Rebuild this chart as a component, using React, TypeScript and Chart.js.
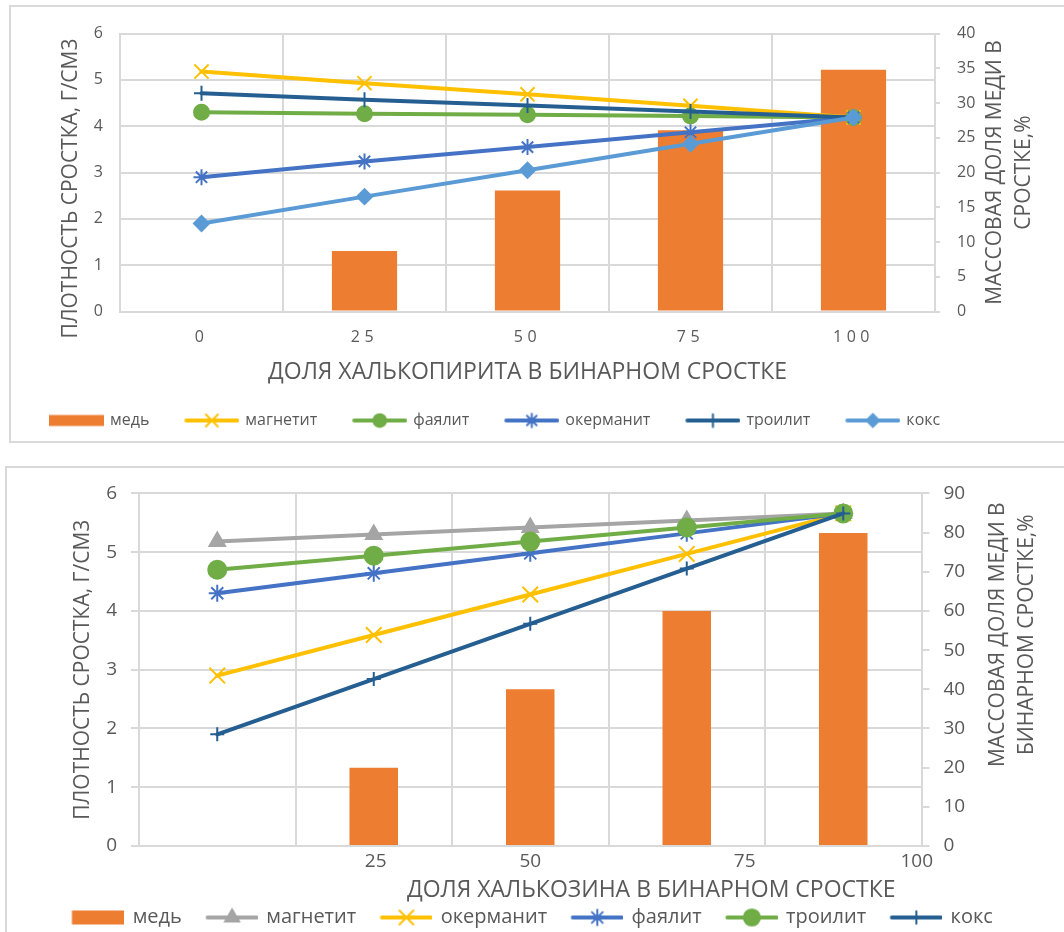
import React, { useEffect, useRef } from 'react';
import { Chart, registerables } from 'chart.js';
import { drawPoint } from 'chart.js/helpers';

Chart.register(...registerables);

// ---------- Chalcopyrite intergrowth ----------
const CPY_SHARE = ['0', '25', '50', '75', '100'];
const CPY_COPPER = [0, 8.7, 17.4, 26.1, 34.8];
const CPY_MAGNETITE = [5.18, 4.93, 4.69, 4.44, 4.19];
const CPY_FAYALITE = [4.3, 4.27, 4.25, 4.22, 4.19];
const CPY_AKERMANITE = [2.9, 3.24, 3.55, 3.87, 4.19];
const CPY_TROILITE = [4.71, 4.57, 4.45, 4.32, 4.19];
const CPY_COKE = [1.9, 2.48, 3.05, 3.62, 4.19];

// ---------- Chalcocite intergrowth ----------
const CC_SHARE = ['0', '25', '50', '75', '100'];
const CC_TICK_LABELS = ['25', '50', '75', '100'];
const CC_COPPER = [0, 20, 40, 60, 79.9];
const CC_MAGNETITE = [5.18, 5.3, 5.42, 5.54, 5.66];
const CC_AKERMANITE = [2.9, 3.59, 4.28, 4.97, 5.66];
const CC_FAYALITE = [4.3, 4.64, 4.98, 5.32, 5.66];
const CC_TROILITE = [4.7, 4.94, 5.18, 5.42, 5.66];
const CC_COKE = [1.9, 2.84, 3.78, 4.72, 5.66];

const DENSITY_TITLE = 'ПЛОТНОСТЬ СРОСТКА, Г/СМ3';
const CPY_X_TITLE = 'ДОЛЯ ХАЛЬКОПИРИТА В БИНАРНОМ СРОСТКЕ';
const CC_X_TITLE = 'ДОЛЯ ХАЛЬКОЗИНА В БИНАРНОМ СРОСТКЕ';
const CPY_CU_TITLE = ['МАССОВАЯ ДОЛЯ МЕДИ В', 'СРОСТКЕ,%'];
const CC_CU_TITLE = ['МАССОВАЯ ДОЛЯ МЕДИ В', 'БИНАРНОМ СРОСТКЕ,%'];

const FONT = "'Open Sans', 'Noto Sans', sans-serif";
const TEXT = '#595959';
const GRID = '#d9d9d9';
const ORANGE = '#ED7D31';
const YELLOW = '#FFC000';
const GREEN = '#70AD47';
const BLUE = '#4472C4';
const NAVY = '#255E91';
const SKY = '#5B9BD5';
const GREY = '#A5A5A5';

type Series = {
  label: string;
  data: number[];
  color: string;
  style: string;
  radius: number;
};

type Layout = {
  width: number;
  height: number;
  padding: { left: number; top: number; right: number; bottom: number };
  leftWidth: number;
  rightWidth: number;
  xHeight: number;
  tickFont: number;
  xTickPad: number;
  yTickPad: number;
  leftTickLen: number;
  rightTickLen: number;
  legendFont: number;
  legendPad: number;
  legendAlign: 'start' | 'center';
  glyphW: number;
  glyphLead: number;
  barH: number;
  lineW: number;
  markerScale: number;
  barRatio: number;
  letterSpacing: string;
  titles: any[];
};

// Legend swatch: transparent lead-in, then a line with its marker (or a bar block).
function makeGlyph(s: Series | null, L: Layout): HTMLCanvasElement {
  const c = document.createElement('canvas');
  const h = 24;
  c.width = L.glyphLead + L.glyphW;
  c.height = h;
  const ctx = c.getContext('2d')!;
  const x0 = L.glyphLead;
  if (!s) {
    ctx.fillStyle = ORANGE;
    ctx.fillRect(x0, (h - L.barH) / 2, L.glyphW, L.barH);
    return c;
  }
  ctx.strokeStyle = s.color;
  ctx.lineWidth = L.lineW;
  ctx.lineCap = 'round';
  ctx.beginPath();
  ctx.moveTo(x0 + L.lineW / 2, h / 2);
  ctx.lineTo(x0 + L.glyphW - L.lineW / 2, h / 2);
  ctx.stroke();
  ctx.fillStyle = s.color;
  ctx.strokeStyle = s.color;
  ctx.lineWidth = 2;
  drawPoint(ctx, { pointStyle: s.style as any, radius: s.radius * L.markerScale, rotation: 0, borderWidth: 2 }, x0 + L.glyphW / 2, h / 2);
  return c;
}

const titlePlugin = {
  id: 'sideTitles',
  afterDraw(chart: any, _args: any, opts: any) {
    const { ctx, chartArea: a } = chart;
    (opts.items || []).forEach((t: any) => {
      ctx.save();
      ctx.fillStyle = TEXT;
      ctx.font = `${t.size}px ${FONT}`;
      ctx.textAlign = 'center';
      ctx.textBaseline = 'middle';
      let x = 0;
      let y = 0;
      if (t.side === 'left') {
        x = a.left - t.offset;
        y = (a.top + a.bottom) / 2 + (t.shift || 0);
      } else if (t.side === 'right') {
        x = a.right + t.offset;
        y = (a.top + a.bottom) / 2 + (t.shift || 0);
      } else {
        x = (a.left + a.right) / 2 + (t.shift || 0);
        y = a.bottom + t.offset;
      }
      ctx.translate(x, y);
      if (t.side !== 'bottom') ctx.rotate(-Math.PI / 2);
      t.lines.forEach((line: string, i: number) => ctx.fillText(line, 0, i * (t.gap || 0)));
      ctx.restore();
    });
  },
};

// Category labels of the first chart are printed with wide tracking.
const trackingPlugin = {
  id: 'tracking',
  beforeDraw(chart: any, _args: any, opts: any) {
    const s = chart.scales[opts.axis];
    if (!s || s.__tracked || !opts.spacing) return;
    const orig = s.drawLabels;
    s.drawLabels = function (area: any) {
      const c = this.ctx;
      const prev = c.letterSpacing;
      c.letterSpacing = opts.spacing;
      orig.call(this, area);
      c.letterSpacing = prev;
    };
    s.__tracked = true;
  },
};

function buildConfig(
  cats: string[],
  copper: number[],
  cuMax: number,
  cuStep: number,
  series: Series[],
  L: Layout,
  extraX: any | null
): any {
  const glyphs = [makeGlyph(null, L), ...series.map((s) => makeGlyph(s, L))];
  const datasets: any[] = [
    {
      type: 'bar',
      label: 'медь',
      data: copper,
      backgroundColor: ORANGE,
      borderWidth: 0,
      yAxisID: 'y1',
      xAxisID: 'x',
      barPercentage: L.barRatio,
      categoryPercentage: 1,
      order: 10,
    },
    ...series.map((s, i) => ({
      type: 'line',
      label: s.label,
      data: s.data,
      borderColor: s.color,
      backgroundColor: s.color,
      borderWidth: L.lineW,
      borderCapStyle: 'round',
      borderJoinStyle: 'round',
      pointStyle: s.style,
      pointRadius: s.radius,
      pointBorderWidth: 2,
      pointBackgroundColor: s.color,
      pointBorderColor: s.color,
      tension: 0,
      yAxisID: 'y',
      xAxisID: 'x',
      order: -i,
    })),
  ];

  const tickFont = { family: FONT, size: L.tickFont };
  const scales: any = {
    x: {
      type: 'category',
      offset: true,
      weight: 0,
      grid: { offset: true, color: GRID, lineWidth: 2, drawTicks: false },
      border: { color: GRID, width: 2 },
      ticks: { display: !extraX, color: TEXT, font: tickFont, padding: L.xTickPad, maxRotation: 0, autoSkip: false },
      afterFit: (s: any) => {
        s.height = extraX ? 0 : L.xHeight;
      },
    },
    y: {
      position: 'left',
      min: 0,
      max: 6,
      ticks: { stepSize: 1, color: TEXT, font: tickFont, padding: L.yTickPad },
      grid: { color: GRID, lineWidth: 2, drawTicks: L.leftTickLen > 0, tickLength: L.leftTickLen },
      border: { color: GRID, width: 2 },
      afterFit: (s: any) => {
        s.width = L.leftWidth;
      },
    },
    y1: {
      position: 'right',
      min: 0,
      max: cuMax,
      ticks: { stepSize: cuStep, color: TEXT, font: tickFont, padding: L.yTickPad },
      grid: { drawOnChartArea: false, color: GRID, lineWidth: 2, drawTicks: true, tickLength: L.rightTickLen },
      border: { color: GRID, width: 2 },
      afterFit: (s: any) => {
        s.width = L.rightWidth;
      },
    },
  };
  if (extraX) {
    // Label-only axis across the plot width (0 at the left edge, 100 at the right edge).
    scales.xl = {
      type: 'linear',
      position: 'bottom',
      weight: 1,
      offset: false,
      min: 0,
      max: 100,
      grid: { display: false, drawTicks: false, offset: false },
      border: { display: false },
      afterBuildTicks: (s: any) => {
        s.ticks = extraX.at.map((v: number) => ({ value: v }));
      },
      ticks: {
        color: TEXT,
        font: tickFont,
        padding: L.xTickPad,
        maxRotation: 0,
        autoSkip: false,
        callback: (_v: any, i: number) => extraX.labels[i],
      },
      afterFit: (s: any) => {
        s.height = L.xHeight;
      },
    };
  }

  return {
    type: 'bar',
    data: { labels: cats, datasets },
    options: {
      responsive: false,
      animation: false,
      events: [],
      layout: { padding: L.padding, autoPadding: false },
      scales,
      plugins: {
        tooltip: { enabled: false },
        title: { display: false },
        legend: {
          display: true,
          position: 'bottom',
          align: L.legendAlign,
          labels: {
            usePointStyle: true,
            pointStyleWidth: L.glyphLead + L.glyphW - 4,
            boxHeight: 10,
            padding: L.legendPad,
            color: TEXT,
            font: { family: FONT, size: L.legendFont },
            generateLabels: (chart: any) =>
              chart.data.datasets.map((ds: any, i: number) => ({
                text: ds.label,
                pointStyle: glyphs[i],
                fillStyle: 'transparent',
                strokeStyle: 'transparent',
                lineWidth: 0,
                hidden: false,
                datasetIndex: i,
                fontColor: TEXT,
              })),
          },
        },
        sideTitles: { items: L.titles },
        tracking: { axis: 'x', spacing: L.letterSpacing },
      },
    },
    plugins: [titlePlugin, trackingPlugin],
  };
}

function ChartCanvas({ make, width, height }: { make: () => any; width: number; height: number }) {
  const ref = useRef<HTMLCanvasElement>(null);
  useEffect(() => {
    const chart = new Chart(ref.current!, make());
    return () => chart.destroy();
  }, []);
  return <canvas ref={ref} width={width} height={height} style={{ display: 'block', width, height }} />;
}

const CPY_SERIES: Series[] = [
  { label: 'магнетит', data: CPY_MAGNETITE, color: YELLOW, style: 'crossRot', radius: 10 },
  { label: 'фаялит', data: CPY_FAYALITE, color: GREEN, style: 'circle', radius: 7.5 },
  { label: 'окерманит', data: CPY_AKERMANITE, color: BLUE, style: 'star', radius: 8 },
  { label: 'троилит', data: CPY_TROILITE, color: NAVY, style: 'cross', radius: 7.5 },
  { label: 'кокс', data: CPY_COKE, color: SKY, style: 'rectRot', radius: 7.5 },
];

const CC_SERIES: Series[] = [
  { label: 'магнетит', data: CC_MAGNETITE, color: GREY, style: 'triangle', radius: 9 },
  { label: 'окерманит', data: CC_AKERMANITE, color: YELLOW, style: 'crossRot', radius: 11 },
  { label: 'фаялит', data: CC_FAYALITE, color: BLUE, style: 'star', radius: 8.5 },
  { label: 'троилит', data: CC_TROILITE, color: GREEN, style: 'circle', radius: 9 },
  { label: 'кокс', data: CC_COKE, color: NAVY, style: 'cross', radius: 7 },
];

const CPY_LAYOUT: Layout = {
  width: 1053,
  height: 434,
  padding: { left: 3, top: 23, right: 0, bottom: 2.5 },
  leftWidth: 106,
  rightWidth: 129,
  xHeight: 95,
  tickFont: 16,
  xTickPad: 15.9,
  yTickPad: 17,
  leftTickLen: 0,
  rightTickLen: 5,
  legendFont: 16,
  legendPad: 6,
  legendAlign: 'start',
  glyphW: 55,
  glyphLead: 31,
  barH: 11,
  lineW: 4,
  markerScale: 0.85,
  barRatio: 0.4,
  letterSpacing: '4.5px',
  titles: [
    { side: 'left', lines: [DENSITY_TITLE], size: 21, offset: 49, shift: 16 },
    { side: 'right', lines: CPY_CU_TITLE, size: 21, offset: 60, gap: 29, shift: 0 },
    { side: 'bottom', lines: [CPY_X_TITLE], size: 23, offset: 61, shift: 0 },
  ],
};

const CC_LAYOUT: Layout = {
  width: 1057,
  height: 480,
  padding: { left: 0, top: 15, right: 26, bottom: 10.5 },
  leftWidth: 132,
  rightWidth: 116.5,
  xHeight: 57.5,
  tickFont: 19,
  xTickPad: 4,
  yTickPad: 14,
  leftTickLen: 8,
  rightTickLen: 8,
  legendFont: 20,
  legendPad: 4,
  legendAlign: 'center',
  glyphW: 53,
  glyphLead: 21.5,
  barH: 14,
  lineW: 4,
  markerScale: 0.9,
  barRatio: 0.31,
  letterSpacing: '',
  titles: [
    { side: 'left', lines: [DENSITY_TITLE], size: 21, offset: 56, shift: 0 },
    { side: 'right', lines: CC_CU_TITLE, size: 21, offset: 76.5, gap: 29, shift: -35 },
    { side: 'bottom', lines: [CC_X_TITLE], size: 23, offset: 44, shift: 121 },
  ],
};

export default function App() {
  return (
    <div style={{ position: 'absolute', left: 0, top: 0, width: 1064, height: 932, overflow: 'hidden', background: '#fff' }}>
      <div style={{ position: 'absolute', left: 9, top: 5, width: 1070, height: 438, border: `2px solid ${GRID}`, boxSizing: 'border-box' }}>
        <ChartCanvas
          width={CPY_LAYOUT.width}
          height={CPY_LAYOUT.height}
          make={() => buildConfig(CPY_SHARE, CPY_COPPER, 40, 5, CPY_SERIES, CPY_LAYOUT, null)}
        />
      </div>
      <div style={{ position: 'absolute', left: 5, top: 466, width: 1070, height: 490, border: `2px solid ${GRID}`, boxSizing: 'border-box' }}>
        <ChartCanvas
          width={CC_LAYOUT.width}
          height={CC_LAYOUT.height}
          make={() =>
            buildConfig(CC_SHARE, CC_COPPER, 90, 10, CC_SERIES, CC_LAYOUT, { at: [30.25, 50, 77.4, 99.4], labels: CC_TICK_LABELS })
          }
        />
      </div>
    </div>
  );
}
